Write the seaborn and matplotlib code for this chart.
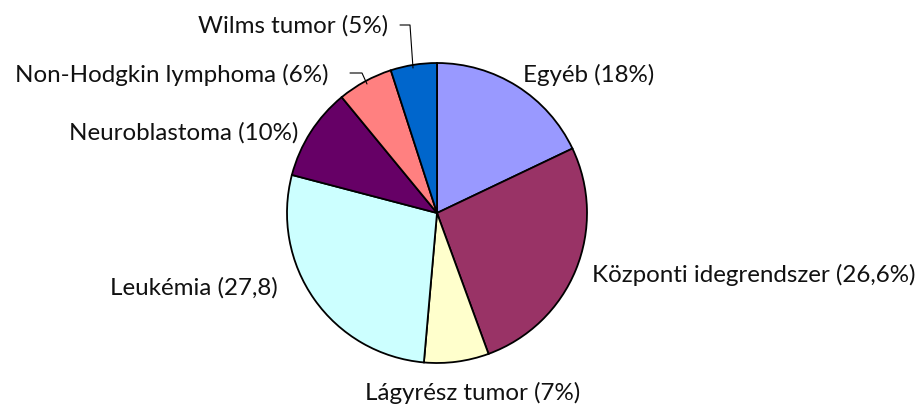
import matplotlib
matplotlib.use("Agg")
import matplotlib.pyplot as plt
import seaborn as sns

sns.set_theme(style="white")
plt.rcParams['font.family'] = ['Lato', 'DejaVu Sans']

categories = ["Egyéb", "Központi idegrendszer", "Lágyrész tumor", "Leukémia",
              "Neuroblastoma", "Non-Hodgkin lymphoma", "Wilms tumor"]
values = [18, 26.6, 7, 27.8, 10, 6, 5]
labels = ["Egyéb (18%)", "Központi idegrendszer (26,6%)", "Lágyrész tumor (7%)",
          "Leukémia (27,8)", "Neuroblastoma (10%)", "Non-Hodgkin lymphoma (6%)",
          "Wilms tumor (5%)"]
colors = sns.color_palette(["#9999FF", "#993366", "#FFFFCC", "#CCFFFF",
                            "#660066", "#FF8080", "#0066CC"])

W, H = 921, 407
fig = plt.figure(figsize=(W / 100, H / 100), dpi=100)
cx, cy, r = 437, 213, 150
ax = fig.add_axes([(cx - r) / W, (H - cy - r) / H, 2 * r / W, 2 * r / H])
ax.pie(values, colors=colors, startangle=90, counterclock=False,
       wedgeprops=dict(edgecolor="black", linewidth=1.3), radius=1)
ax.set_xlim(-1, 1)
ax.set_ylim(-1, 1)
ax.set_aspect("equal")
ax.axis("off")

def d(px, py):
    return ((px - cx) / r, (cy - py) / r)

fs = 17.4
# label placements (pixel positions)
place = [
    (523, 75, "left"),
    (592, 275, "left"),
    (473, 393, "center"),
    (278, 288, "right"),
    (298, 133, "right"),
    (328, 75, "right"),
    (388, 26, "right"),
]
for lab, (px, py, ha) in zip(labels, place):
    x, y = d(px, py)
    ax.text(x, y, lab, ha=ha, va="center", fontsize=fs, color="#111111", clip_on=False)

# leader lines
for pts in ([(400, 25), (410, 25), (413, 68)], [(350, 73), (362, 73), (367, 84)]):
    xs, ys = zip(*[d(*p) for p in pts])
    ax.plot(xs, ys, color="black", linewidth=0.8, clip_on=False)

fig.savefig("out.png", dpi=100)
